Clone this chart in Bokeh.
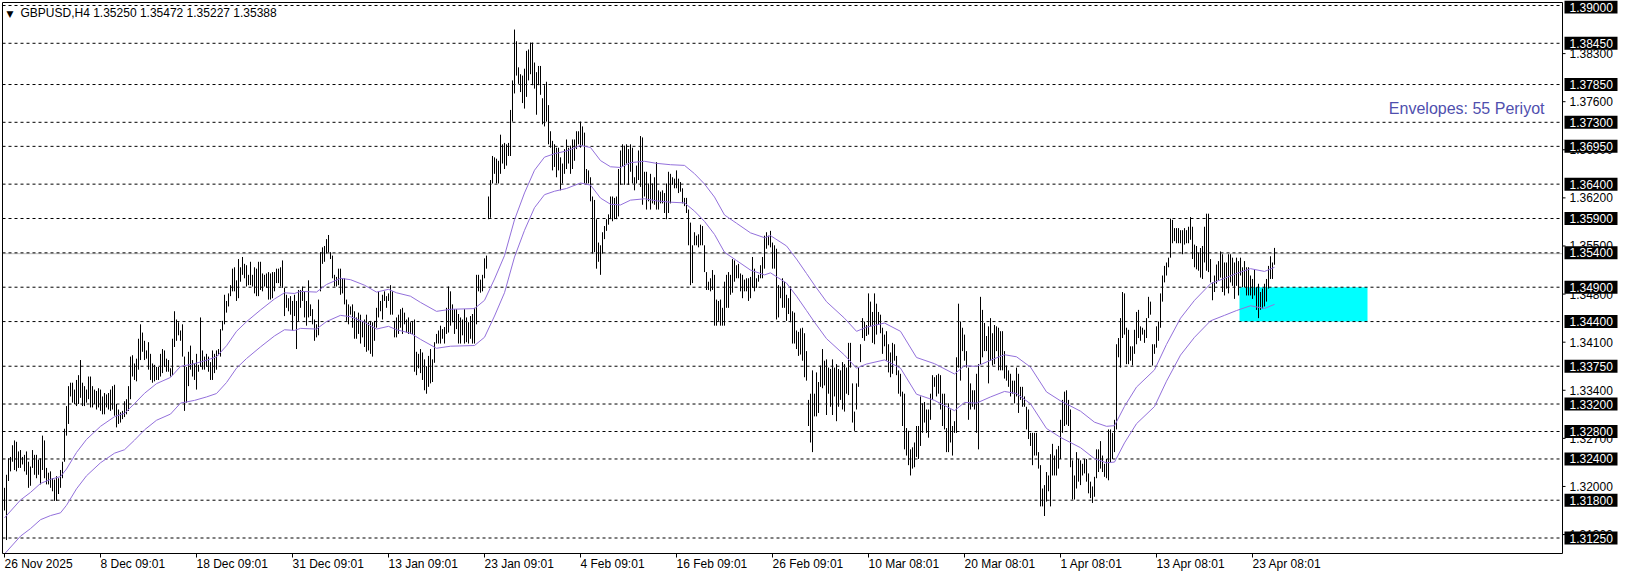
from bokeh.plotting import figure
from bokeh.models import Range1d
from bokeh.core.properties import value
from bokeh.embed import file_html
from bokeh.resources import INLINE

# ---------------- data (GBPUSD H4, bar index 0 = 26 Nov 2025) ----------------
high_nov_dec = [
    1.3198, 1.3217, 1.3241, 1.3243, 1.3260, 1.3267, 1.3265, 1.3251, 1.3253, 1.3243,
    1.3246, 1.3251, 1.3236, 1.3229, 1.3253, 1.3246, 1.3246, 1.3239, 1.3241, 1.3274,
    1.3267, 1.3227, 1.3220, 1.3222, 1.3212, 1.3210, 1.3215, 1.3212, 1.3224, 1.3236,
    1.3284, 1.3317, 1.3346, 1.3351, 1.3351, 1.3341, 1.3355, 1.3362, 1.3384, 1.3351,
    1.3346, 1.3341, 1.3360, 1.3360, 1.3346, 1.3341, 1.3339, 1.3343, 1.3341, 1.3331,
    1.3336, 1.3334, 1.3336, 1.3341, 1.3346, 1.3348, 1.3320, 1.3312, 1.3308, 1.3310,
    1.3324, 1.3327, 1.3346, 1.3389, 1.3391, 1.3379, 1.3386, 1.3415, 1.3436, 1.3424,
    1.3412, 1.3398, 1.3410, 1.3393, 1.3379, 1.3377, 1.3374, 1.3374, 1.3393, 1.3400,
    1.3398, 1.3386, 1.3384, 1.3372, 1.3415, 1.3455, 1.3443, 1.3439, 1.3427, 1.3436,
    1.3389, 1.3374, 1.3396, 1.3405, 1.3384, 1.3379, 1.3393, 1.3377, 1.3446, 1.3398,
    1.3389, 1.3393, 1.3389, 1.3381, 1.3398, 1.3393, 1.3398, 1.3400, 1.3429, 1.3441,
    1.3479, 1.3470, 1.3481, 1.3493, 1.3517, 1.3519, 1.3500, 1.3531, 1.3519, 1.3534,
    1.3524, 1.3522, 1.3508, 1.3527, 1.3508, 1.3519, 1.3517, 1.3527, 1.3527, 1.3510,
    1.3508, 1.3510, 1.3512, 1.3510, 1.3512, 1.3512, 1.3517, 1.3517, 1.3519, 1.3529,
    1.3489, 1.3479, 1.3474, 1.3477, 1.3470, 1.3479, 1.3470, 1.3486, 1.3486, 1.3491,
    1.3484, 1.3470, 1.3500, 1.3465, 1.3458, 1.3443]
low_nov_dec = [
    1.3165, 1.3122, 1.3208, 1.3222, 1.3236, 1.3224, 1.3222, 1.3227, 1.3227, 1.3232,
    1.3222, 1.3217, 1.3198, 1.3201, 1.3227, 1.3217, 1.3212, 1.3217, 1.3203, 1.3224,
    1.3212, 1.3203, 1.3203, 1.3198, 1.3193, 1.3179, 1.3179, 1.3189, 1.3198, 1.3212,
    1.3236, 1.3274, 1.3291, 1.3331, 1.3322, 1.3320, 1.3317, 1.3320, 1.3329, 1.3317,
    1.3317, 1.3322, 1.3327, 1.3315, 1.3315, 1.3320, 1.3312, 1.3315, 1.3310, 1.3305,
    1.3305, 1.3315, 1.3312, 1.3310, 1.3312, 1.3303, 1.3286, 1.3291, 1.3293, 1.3298,
    1.3301, 1.3305, 1.3310, 1.3327, 1.3360, 1.3355, 1.3353, 1.3370, 1.3384, 1.3396,
    1.3384, 1.3386, 1.3370, 1.3355, 1.3351, 1.3353, 1.3355, 1.3355, 1.3360, 1.3365,
    1.3374, 1.3367, 1.3367, 1.3360, 1.3362, 1.3403, 1.3412, 1.3420, 1.3412, 1.3389,
    1.3310, 1.3322, 1.3346, 1.3370, 1.3360, 1.3355, 1.3341, 1.3367, 1.3374, 1.3370,
    1.3370, 1.3374, 1.3367, 1.3355, 1.3355, 1.3365, 1.3370, 1.3391, 1.3389, 1.3427,
    1.3436, 1.3453, 1.3462, 1.3477, 1.3484, 1.3484, 1.3470, 1.3474, 1.3498, 1.3508,
    1.3503, 1.3491, 1.3493, 1.3493, 1.3491, 1.3481, 1.3477, 1.3477, 1.3486, 1.3484,
    1.3491, 1.3489, 1.3472, 1.3472, 1.3474, 1.3484, 1.3496, 1.3496, 1.3491, 1.3489,
    1.3448, 1.3460, 1.3455, 1.3450, 1.3427, 1.3448, 1.3400, 1.3441, 1.3460, 1.3470,
    1.3446, 1.3434, 1.3446, 1.3448, 1.3436, 1.3412]

high_jan = [
    1.3436, 1.3472, 1.3541, 1.3548,
    1.3550, 1.3560, 1.3566, 1.3541, 1.3536, 1.3508, 1.3505, 1.3517, 1.3517, 1.3503,
    1.3503, 1.3472, 1.3465, 1.3462, 1.3465, 1.3455, 1.3446, 1.3453, 1.3450, 1.3441,
    1.3443, 1.3450, 1.3439, 1.3441, 1.3439, 1.3441, 1.3460, 1.3484, 1.3470, 1.3479,
    1.3484, 1.3477, 1.3481, 1.3493, 1.3484, 1.3441, 1.3446, 1.3450, 1.3458, 1.3460,
    1.3453, 1.3443, 1.3446, 1.3439, 1.3441, 1.3443, 1.3396, 1.3393, 1.3400, 1.3395,
    1.3385, 1.3375, 1.3390, 1.3400, 1.3385, 1.3410, 1.3422, 1.3427, 1.3434, 1.3429,
    1.3432, 1.3460, 1.3491, 1.3484, 1.3465, 1.3458, 1.3458, 1.3451, 1.3446, 1.3443,
    1.3458, 1.3446, 1.3439, 1.3448, 1.3451, 1.3460, 1.3508, 1.3508, 1.3501, 1.3508,
    1.3532, 1.3536, 1.3622, 1.3646, 1.3681, 1.3679, 1.3677, 1.3674, 1.3712, 1.3698,
    1.3700, 1.3698, 1.3700, 1.3748, 1.3791, 1.3865, 1.3848, 1.3810, 1.3800, 1.3798,
    1.3808, 1.3834, 1.3836, 1.3846, 1.3846, 1.3817, 1.3803, 1.3812, 1.3812, 1.3765,
    1.3784, 1.3789, 1.3755, 1.3717, 1.3703, 1.3698, 1.3693, 1.3693, 1.3679, 1.3670,
    1.3691, 1.3705, 1.3693, 1.3696, 1.3705, 1.3705, 1.3717, 1.3717]
low_jan = [
    1.3417, 1.3420, 1.3484, 1.3524,
    1.3527, 1.3539, 1.3541, 1.3531, 1.3503, 1.3491, 1.3491, 1.3493, 1.3479, 1.3481,
    1.3465, 1.3441, 1.3436, 1.3450, 1.3431, 1.3415, 1.3415, 1.3422, 1.3408, 1.3417,
    1.3403, 1.3396, 1.3398, 1.3393, 1.3389, 1.3412, 1.3431, 1.3446, 1.3455, 1.3443,
    1.3470, 1.3460, 1.3470, 1.3450, 1.3450, 1.3417, 1.3417, 1.3422, 1.3431, 1.3422,
    1.3436, 1.3424, 1.3422, 1.3422, 1.3422, 1.3367, 1.3362, 1.3372, 1.3365, 1.3355,
    1.3340, 1.3335, 1.3345, 1.3350, 1.3352, 1.3380, 1.3408, 1.3408, 1.3408, 1.3415,
    1.3408, 1.3422, 1.3424, 1.3434, 1.3439, 1.3422, 1.3429, 1.3408, 1.3408, 1.3420,
    1.3408, 1.3410, 1.3408, 1.3415, 1.3408, 1.3408, 1.3436, 1.3484, 1.3482, 1.3484,
    1.3503, 1.3517, 1.3589, 1.3591, 1.3641, 1.3655, 1.3641, 1.3641, 1.3655, 1.3670,
    1.3662, 1.3667, 1.3681, 1.3681, 1.3731, 1.3772, 1.3798, 1.3786, 1.3774, 1.3758,
    1.3750, 1.3767, 1.3791, 1.3800, 1.3784, 1.3779, 1.3741, 1.3784, 1.3770, 1.3727,
    1.3724, 1.3731, 1.3698, 1.3693, 1.3660, 1.3665, 1.3650, 1.3660, 1.3631, 1.3641,
    1.3655, 1.3662, 1.3670, 1.3655, 1.3662, 1.3674, 1.3691, 1.3698]

high_feb = [
    1.3731, 1.3724,
    1.3715, 1.3662, 1.3660, 1.3650, 1.3622, 1.3617, 1.3589, 1.3555, 1.3551, 1.3570,
    1.3579, 1.3589, 1.3596, 1.3622, 1.3622, 1.3620, 1.3622, 1.3662, 1.3689, 1.3698,
    1.3696, 1.3698, 1.3691, 1.3698, 1.3693, 1.3650, 1.3667, 1.3689, 1.3710, 1.3708,
    1.3658, 1.3658, 1.3641, 1.3655, 1.3641, 1.3650, 1.3672, 1.3631, 1.3629, 1.3631,
    1.3627, 1.3641, 1.3658, 1.3655, 1.3650, 1.3648, 1.3660, 1.3648, 1.3643, 1.3634,
    1.3620, 1.3620, 1.3603, 1.3584, 1.3551, 1.3570, 1.3565, 1.3567, 1.3581, 1.3579,
    1.3551, 1.3512, 1.3498, 1.3503, 1.3515, 1.3508, 1.3472, 1.3470, 1.3472, 1.3460,
    1.3498, 1.3508, 1.3512, 1.3508, 1.3531, 1.3529, 1.3522, 1.3524, 1.3510, 1.3508,
    1.3501, 1.3503, 1.3503, 1.3505, 1.3534, 1.3517, 1.3503, 1.3508, 1.3522, 1.3534,
    1.3565, 1.3570, 1.3565, 1.3572]
low_feb = [
    1.3693, 1.3696,
    1.3641, 1.3641, 1.3641, 1.3615, 1.3539, 1.3541, 1.3517, 1.3527, 1.3508, 1.3539,
    1.3560, 1.3572, 1.3581, 1.3589, 1.3586, 1.3589, 1.3589, 1.3593, 1.3639, 1.3665,
    1.3639, 1.3670, 1.3639, 1.3658, 1.3641, 1.3631, 1.3641, 1.3646, 1.3636, 1.3610,
    1.3622, 1.3603, 1.3615, 1.3603, 1.3612, 1.3610, 1.3603, 1.3603, 1.3612, 1.3612,
    1.3598, 1.3589, 1.3598, 1.3612, 1.3639, 1.3634, 1.3634, 1.3627, 1.3629, 1.3612,
    1.3608, 1.3598, 1.3551, 1.3493, 1.3496, 1.3551, 1.3551, 1.3548, 1.3551, 1.3551,
    1.3512, 1.3486, 1.3486, 1.3484, 1.3486, 1.3434, 1.3434, 1.3441, 1.3434, 1.3434,
    1.3434, 1.3460, 1.3460, 1.3479, 1.3482, 1.3498, 1.3503, 1.3503, 1.3484, 1.3474,
    1.3484, 1.3484, 1.3470, 1.3474, 1.3489, 1.3484, 1.3489, 1.3498, 1.3503, 1.3503,
    1.3517, 1.3546, 1.3551, 1.3548]

high_mar = [
    1.3555, 1.3551, 1.3546, 1.3493, 1.3491, 1.3503,
    1.3498, 1.3479, 1.3474, 1.3491, 1.3455, 1.3453, 1.3427, 1.3425, 1.3430, 1.3431,
    1.3423, 1.3397, 1.3326, 1.3335, 1.3369, 1.3335, 1.3366, 1.3352, 1.3376, 1.3400,
    1.3383, 1.3385, 1.3373, 1.3371, 1.3385, 1.3373, 1.3378, 1.3371, 1.3369, 1.3381,
    1.3378, 1.3373, 1.3409, 1.3409, 1.3350, 1.3309, 1.3350, 1.3373, 1.3407, 1.3445,
    1.3440, 1.3435, 1.3481, 1.3469, 1.3454, 1.3481, 1.3466, 1.3454, 1.3450, 1.3431,
    1.3421, 1.3426, 1.3407, 1.3395, 1.3409, 1.3407, 1.3390, 1.3369, 1.3364, 1.3338,
    1.3335, 1.3285, 1.3281, 1.3254, 1.3257, 1.3264, 1.3288, 1.3288, 1.3331, 1.3321,
    1.3323, 1.3312, 1.3312, 1.3335, 1.3362, 1.3359, 1.3362, 1.3364, 1.3362, 1.3335,
    1.3335, 1.3285, 1.3321, 1.3312, 1.3288, 1.3295, 1.3388, 1.3466, 1.3440, 1.3431,
    1.3421, 1.3397, 1.3373, 1.3350, 1.3340, 1.3340, 1.3364, 1.3378, 1.3476, 1.3457,
    1.3438, 1.3419, 1.3433, 1.3445, 1.3423, 1.3435, 1.3433, 1.3431, 1.3426, 1.3426,
    1.3397, 1.3376, 1.3369, 1.3364, 1.3354, 1.3354, 1.3373, 1.3364, 1.3345, 1.3345,
    1.3331, 1.3316, 1.3312, 1.3278, 1.3278, 1.3278, 1.3278, 1.3250, 1.3231, 1.3197,
    1.3202, 1.3221, 1.3216, 1.3247, 1.3262, 1.3245, 1.3254, 1.3259]
low_mar = [
    1.3517, 1.3517, 1.3443, 1.3446, 1.3474, 1.3460,
    1.3460, 1.3441, 1.3451, 1.3439, 1.3408, 1.3408, 1.3400, 1.3390, 1.3392, 1.3383,
    1.3359, 1.3354, 1.3288, 1.3264, 1.3250, 1.3302, 1.3302, 1.3307, 1.3345, 1.3343,
    1.3347, 1.3304, 1.3335, 1.3316, 1.3304, 1.3331, 1.3295, 1.3316, 1.3326, 1.3312,
    1.3309, 1.3335, 1.3333, 1.3373, 1.3293, 1.3281, 1.3312, 1.3345, 1.3381, 1.3416,
    1.3412, 1.3419, 1.3421, 1.3433, 1.3409, 1.3407, 1.3421, 1.3435, 1.3423, 1.3393,
    1.3404, 1.3383, 1.3366, 1.3359, 1.3364, 1.3383, 1.3362, 1.3335, 1.3331, 1.3288,
    1.3254, 1.3245, 1.3231, 1.3216, 1.3226, 1.3228, 1.3243, 1.3240, 1.3259, 1.3278,
    1.3293, 1.3278, 1.3271, 1.3297, 1.3326, 1.3345, 1.3331, 1.3335, 1.3312, 1.3288,
    1.3283, 1.3250, 1.3250, 1.3264, 1.3245, 1.3278, 1.3278, 1.3373, 1.3354, 1.3397,
    1.3383, 1.3373, 1.3297, 1.3312, 1.3316, 1.3312, 1.3278, 1.3254, 1.3378, 1.3388,
    1.3397, 1.3397, 1.3350, 1.3383, 1.3376, 1.3378, 1.3397, 1.3369, 1.3369, 1.3369,
    1.3357, 1.3354, 1.3345, 1.3331, 1.3335, 1.3321, 1.3331, 1.3307, 1.3326, 1.3316,
    1.3316, 1.3283, 1.3269, 1.3259, 1.3231, 1.3245, 1.3245, 1.3226, 1.3171, 1.3171,
    1.3157, 1.3178, 1.3193, 1.3171, 1.3216, 1.3216, 1.3216, 1.3226]

high_apr = [
    1.3297, 1.3326,
    1.3338, 1.3340, 1.3326, 1.3312, 1.3238, 1.3216, 1.3250, 1.3240, 1.3238, 1.3233,
    1.3240, 1.3240, 1.3219, 1.3207, 1.3200, 1.3214, 1.3254, 1.3254, 1.3266, 1.3245,
    1.3233, 1.3240, 1.3283, 1.3283, 1.3278, 1.3297, 1.3407, 1.3416, 1.3445, 1.3483,
    1.3481, 1.3431, 1.3428, 1.3404, 1.3404, 1.3428, 1.3454, 1.3457, 1.3433, 1.3431,
    1.3428, 1.3445, 1.3476, 1.3469, 1.3407, 1.3407, 1.3433, 1.3440, 1.3481, 1.3507,
    1.3521, 1.3526, 1.3533, 1.3590, 1.3588, 1.3576, 1.3576, 1.3576, 1.3573, 1.3573,
    1.3576, 1.3573, 1.3578, 1.3592, 1.3578, 1.3552, 1.3550, 1.3540, 1.3547, 1.3550,
    1.3578, 1.3597, 1.3597, 1.3531, 1.3497, 1.3507, 1.3523, 1.3528, 1.3542, 1.3538,
    1.3526, 1.3526, 1.3538, 1.3538, 1.3533, 1.3526, 1.3533, 1.3528, 1.3533, 1.3519,
    1.3528, 1.3519, 1.3519, 1.3507, 1.3502, 1.3516, 1.3490, 1.3495, 1.3483, 1.3488,
    1.3495, 1.3502, 1.3521, 1.3535, 1.3526, 1.35472]
low_apr = [
    1.3240, 1.3278,
    1.3288, 1.3290, 1.3288, 1.3228, 1.3181, 1.3181, 1.3197, 1.3207, 1.3202, 1.3216,
    1.3219, 1.3207, 1.3190, 1.3183, 1.3176, 1.3185, 1.3212, 1.3221, 1.3226, 1.3221,
    1.3214, 1.3212, 1.3209, 1.3235, 1.3240, 1.3250, 1.3283, 1.3388, 1.3373, 1.3416,
    1.3421, 1.3378, 1.3378, 1.3383, 1.3376, 1.3393, 1.3407, 1.3416, 1.3412, 1.3421,
    1.3409, 1.3416, 1.3445, 1.3450, 1.3376, 1.3393, 1.3402, 1.3412, 1.3431, 1.3469,
    1.3497, 1.3507, 1.3519, 1.3533, 1.3554, 1.3557, 1.3554, 1.3554, 1.3554, 1.3538,
    1.3552, 1.3554, 1.3554, 1.3559, 1.3531, 1.3519, 1.3516, 1.3514, 1.3504, 1.3502,
    1.3526, 1.3514, 1.3512, 1.3497, 1.3471, 1.3483, 1.3495, 1.3500, 1.3504, 1.3483,
    1.3478, 1.3488, 1.3481, 1.3497, 1.3492, 1.3473, 1.3492, 1.3478, 1.3507, 1.3490,
    1.3490, 1.3478, 1.3478, 1.3478, 1.3473, 1.3478, 1.3457, 1.3445, 1.3457, 1.3459,
    1.3462, 1.3469, 1.3488, 1.3502, 1.3502, 1.35227]

# Envelopes(55): moving-average centre line read at sample bars, deviation 0.2 %
env_bars = [
    0, 8, 13, 18, 23, 28, 31, 36, 41, 48,
    55, 60, 65, 70, 76, 83, 88, 95, 101, 106,
    111, 116, 121, 128, 135, 140, 145, 148, 156, 161,
    168, 173, 180, 186, 192, 196, 203, 208, 216, 223,
    235, 240, 245, 250, 255, 260, 265, 270, 275, 281,
    288, 293, 298, 303, 308, 313, 320, 326, 333, 340,
    345, 350, 355, 360, 366, 373, 380, 383, 391, 396,
    401, 405, 411, 420, 426, 431, 440, 448, 456, 465,
    475, 480, 486, 493, 500, 506, 513, 521, 528, 538,
    545, 551, 555, 560, 566, 575, 581, 588, 595, 603,
    610, 616, 623, 630, 635]
env_mid = [
    1.3128, 1.3154, 1.3165, 1.3178, 1.3184, 1.3188, 1.3199, 1.3223, 1.3242, 1.3261,
    1.3275, 1.3280, 1.3294, 1.3309, 1.3323, 1.3332, 1.3348, 1.3352, 1.3357, 1.3362,
    1.3378, 1.3399, 1.3413, 1.3430, 1.3446, 1.3455, 1.3454, 1.3457, 1.3456, 1.3467,
    1.3476, 1.3474, 1.3466, 1.3456, 1.3460, 1.3455, 1.3450, 1.3441, 1.3428, 1.3431,
    1.3432, 1.3444, 1.3475, 1.3509, 1.3561, 1.3600, 1.3633, 1.3652, 1.3657, 1.3661,
    1.3669, 1.3666, 1.3647, 1.3638, 1.3637, 1.3644, 1.3646, 1.3643, 1.3641, 1.3640,
    1.3628, 1.3613, 1.3594, 1.3568, 1.3556, 1.3542, 1.3535, 1.3538, 1.3523, 1.3504,
    1.3483, 1.3466, 1.3442, 1.3418, 1.3399, 1.3405, 1.3411, 1.3399, 1.3361, 1.3352,
    1.3337, 1.3349, 1.3348, 1.3357, 1.3365, 1.3362, 1.3347, 1.3311, 1.3298, 1.3283,
    1.3267, 1.3261, 1.3262, 1.3290, 1.3318, 1.3343, 1.3380, 1.3418, 1.3444, 1.3468,
    1.3476, 1.3483, 1.3490, 1.3486, 1.3492]
env_deviation = 0.2  # percent

levels = [1.39000, 1.38450, 1.37850, 1.37300, 1.36950, 1.36400, 1.35900, 1.35400,
          1.34900, 1.34400, 1.33750, 1.33200, 1.32800, 1.32400, 1.31800, 1.31250]
price_ticks = [1.313, 1.320, 1.327, 1.334, 1.341, 1.348, 1.355, 1.362, 1.369, 1.376, 1.383]
bid_price = 1.35388

tick_bars = [0, 48, 96, 144, 192, 240, 288, 336, 384, 432, 480, 528, 576, 624]
tick_labels = ["26 Nov 2025", "8 Dec 09:01", "18 Dec 09:01", "31 Dec 09:01", "13 Jan 09:01",
               "23 Jan 09:01", "4 Feb 09:01", "16 Feb 09:01", "26 Feb 09:01", "10 Mar 08:01",
               "20 Mar 08:01", "1 Apr 08:01", "13 Apr 08:01", "23 Apr 08:01"]

zone_from_bar, zone_to_bar = 617.5, 681.5
zone_top, zone_bottom = 1.34900, 1.34400

title_text = "GBPUSD,H4  1.35250 1.35472 1.35227 1.35388"
env_text = "Envelopes: 55 Periyot"

# ---------------- layout (one frame covering the whole canvas) ----------------
highs = high_nov_dec + high_jan + high_feb + high_mar + high_apr
lows = low_nov_dec + low_jan + low_feb + low_mar + low_apr
n = min(len(highs), len(lows))
highs, lows = highs[:n], lows[:n]
bars = list(range(n))

env_upper = [m * (1 + env_deviation / 100) for m in env_mid]
env_lower = [m * (1 - env_deviation / 100) for m in env_mid]

FONT = "Liberation Sans"
W, H = 1620, 571
PXB = 2.0                      # pixels per bar
K = 532.5 / 0.0775             # pixels per price unit
X_LEFT = -2.0
X_RIGHT = X_LEFT + W / PXB
Y_TOP = 1.39 + 5 / K
Y_BOT = Y_TOP - H / K

def sx(px):   # canvas-pixel x -> data x
    return X_LEFT + px / PXB

def sy(px):   # canvas-pixel y (from top) -> data y
    return Y_TOP - px / K

def py(price):  # data y -> canvas-pixel y
    return (Y_TOP - price) * K

R_PX, B_PX = 1562, 553
c_left, c_right = sx(2), sx(R_PX)
c_top, c_bot = sy(2), sy(B_PX)

p = figure(width=W, height=H, output_backend="svg", toolbar_location=None, tools="",
           x_range=Range1d(X_LEFT, X_RIGHT), y_range=Range1d(Y_BOT, Y_TOP),
           min_border=0, x_axis_type=None, y_axis_type=None)
p.grid.visible = False
p.outline_line_color = None
p.background_fill_color = "white"
p.border_fill_color = "white"

# zone
p.quad(left=[zone_from_bar], right=[zone_to_bar], bottom=[zone_bottom], top=[zone_top],
       fill_color="#00FFFF", line_color=None)

# bid line and level lines
p.segment(x0=[c_left], x1=[c_right], y0=[bid_price], y1=[bid_price],
          line_color="#C0C0C0", line_width=1)
p.segment(x0=[c_left] * len(levels), x1=[c_right] * len(levels), y0=levels, y1=levels,
          line_color="black", line_width=1, line_dash="3 3")

# price bars
p.segment(x0=bars, y0=lows, x1=bars, y1=highs, line_color="black", line_width=1)

# envelopes
p.line(env_bars, env_upper, line_color="#9370DB", line_width=1)
p.line(env_bars, env_lower, line_color="#9370DB", line_width=1)

# chart frame
p.quad(left=[c_left], right=[c_right], bottom=[c_bot], top=[c_top],
       fill_color=None, line_color="black", line_width=1)

# price scale (right)
p.segment(x0=[c_right] * len(price_ticks), x1=[c_right + 3 / PXB] * len(price_ticks),
          y0=price_ticks, y1=price_ticks, line_color="black")
p.text(x=[c_right + 7 / PXB] * len(price_ticks), y=price_ticks,
       text=[f"{t:.5f}" for t in price_ticks], text_font=value(FONT),
       text_font_size=value("12px"), text_color="black", text_align="left",
       text_baseline="middle")
box_mid = [sy(max(py(l), 6.5)) for l in levels]   # keep the top box inside the canvas
p.quad(left=[c_right + 2 / PXB] * len(levels), right=[c_right + 55 / PXB] * len(levels),
       bottom=[m - 6.5 / K for m in box_mid], top=[m + 6.5 / K for m in box_mid],
       fill_color="black", line_color=None)
p.text(x=[c_right + 7 / PXB] * len(levels), y=box_mid,
       text=[f"{l:.5f}" for l in levels], text_font=value(FONT),
       text_font_size=value("12px"), text_color="white", text_align="left",
       text_baseline="middle")

# time scale (bottom)
p.segment(x0=tick_bars, x1=tick_bars, y0=[c_bot] * len(tick_bars),
          y1=[c_bot - 4 / K] * len(tick_bars), line_color="black")
p.text(x=tick_bars, y=[c_bot - 3 / K] * len(tick_bars), text=tick_labels,
       text_font=value(FONT), text_font_size=value("12px"), text_color="black",
       text_align="left", text_baseline="top")

# title
p.text(x=[sx(6)], y=[sy(8)], text=["\u25BC"], text_font=value("DejaVu Sans"),
       text_font_size=value("9px"), text_color="black", text_align="left", text_baseline="top")
p.text(x=[sx(20)], y=[sy(5)], text=[title_text], text_font=value(FONT),
       text_font_size=value("12px"), text_color="black", text_align="left", text_baseline="top")

# envelope caption
p.text(x=[sx(1544)], y=[sy(108)], text=[env_text], text_font=value(FONT),
       text_font_size=value("16px"), text_color="#4F4FAE", text_align="right",
       text_baseline="alphabetic")

open("out.html", "w").write(file_html(p, INLINE))
